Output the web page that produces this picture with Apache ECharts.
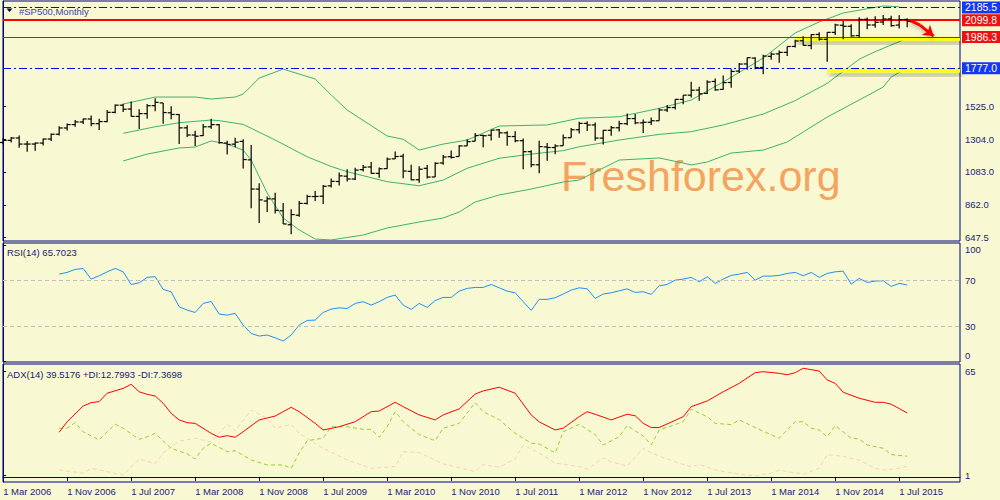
<!DOCTYPE html>
<html><head><meta charset="utf-8">
<script src="https://cdn.jsdelivr.net/npm/echarts@6/dist/echarts.min.js"></script>
<style>html,body{margin:0;padding:0;background:#f8f8d2;}#c{width:1000px;height:500px;}</style>
</head><body><div id="c"></div><script>
// ---- x axis (month index 0 = Mar 2006, one bar per month) ----
const xTickLabels = ['1 Mar 2006','1 Nov 2006','1 Jul 2007','1 Mar 2008','1 Nov 2008','1 Jul 2009','1 Mar 2010','1 Nov 2010','1 Jul 2011','1 Mar 2012','1 Nov 2012','1 Jul 2013','1 Mar 2014','1 Nov 2014','1 Jul 2015'];
const monthsPerTick = 8;

// ---- monthly OHLC ----
const barOpen = [1280.7,1294.8,1310.6,1270.1,1270.2,1276.7,1303.8,1335.9,1377.9,1400.6,
1418.0,1437.9,1406.8,1420.8,1482.4,1530.6,1504.7,1455.2,1474.0,1527.3,
1545.8,1479.6,1468.0,1378.6,1330.5,1326.4,1386.0,1399.6,1276.7,1269.4,
1287.8,1164.2,968.7,888.6,903.0,823.1,729.6,793.6,872.7,918.7,
920.8,990.2,1019.5,1054.9,1036.2,1098.9,1116.6,1073.9,1105.4,1171.2,
1188.6,1087.3,1031.1,1107.5,1049.7,1143.5,1185.7,1186.6,1257.6,1289.1,
1328.6,1329.5,1365.2,1345.2,1320.6,1292.6,1219.1,1131.2,1251.0,1246.9,
1258.9,1312.5,1365.9,1408.5,1397.9,1309.9,1362.3,1379.3,1406.5,1440.9,
1412.2,1416.2,1426.2,1498.1,1514.7,1569.2,1597.6,1631.7,1609.8,1689.4,
1636.0,1682.4,1758.7,1806.6,1845.9,1782.7,1857.7,1874.0,1884.4,1923.9,
1962.3,1929.8,2004.1,1971.4,2018.2,2065.8,2058.9,1996.7,2105.2,2067.6,
2087.4,2108.6,2067.0,2104.5];
const barHigh = [1310.9,1318.2,1326.7,1290.7,1280.4,1306.7,1340.3,1389.5,1407.9,1431.8,
1441.6,1461.6,1438.9,1498.0,1535.6,1540.6,1555.9,1503.9,1538.7,1576.1,
1545.8,1523.6,1471.8,1396.0,1359.7,1404.6,1440.2,1404.1,1292.2,1313.2,
1303.0,1264.3,1007.5,918.9,943.9,875.0,833.0,888.7,930.2,956.2,
996.7,1039.5,1080.2,1101.4,1111.0,1130.4,1150.5,1112.4,1180.7,1219.8,
1205.1,1131.2,1121.0,1129.2,1148.7,1196.1,1227.1,1262.6,1302.7,1344.1,
1332.3,1364.6,1370.6,1356.5,1356.5,1307.4,1229.3,1292.7,1277.6,1269.4,
1333.5,1378.0,1419.2,1422.4,1415.3,1363.5,1391.7,1426.7,1474.5,1471.0,
1434.3,1448.0,1509.9,1530.9,1570.3,1597.6,1687.2,1654.2,1698.0,1709.7,
1729.9,1775.2,1813.6,1849.4,1850.8,1867.9,1884.0,1897.3,1924.0,1968.2,
1991.4,2005.0,2019.3,2018.2,2075.8,2093.6,2072.4,2119.6,2117.5,2125.9,
2134.7,2129.9,2132.8,2112.7];
const barLow = [1268.4,1280.7,1245.3,1219.3,1224.5,1261.3,1290.9,1327.1,1361.0,1385.9,
1404.0,1389.4,1364.0,1416.4,1476.7,1484.2,1454.3,1370.6,1439.3,1489.6,
1406.1,1435.6,1270.1,1316.8,1257.0,1324.4,1373.1,1272.0,1200.4,1248.6,
1106.4,839.8,741.0,815.7,804.3,734.5,666.8,783.3,866.1,888.9,
869.3,978.5,992.0,1020.2,1029.4,1085.9,1071.6,1044.5,1105.4,1170.7,
1040.8,1028.3,1010.9,1039.7,1049.7,1131.9,1173.0,1186.6,1257.6,1289.1,
1249.1,1294.7,1311.8,1258.1,1282.9,1101.5,1114.2,1074.8,1158.7,1202.4,
1258.9,1312.5,1340.0,1357.4,1292.0,1266.7,1325.4,1354.7,1396.6,1403.3,
1343.4,1398.1,1426.2,1485.0,1501.5,1536.0,1581.3,1560.3,1604.6,1627.5,
1633.4,1646.5,1746.2,1768.0,1770.5,1737.9,1834.4,1814.4,1859.8,1916.0,
1930.7,1904.8,1964.0,1820.7,2001.0,1972.6,1988.1,1980.9,2039.7,2048.4,
2067.9,2056.3,2044.0,2052.1];
const barClose = [1294.9,1310.6,1270.1,1270.2,1276.7,1303.8,1335.9,1377.9,1400.6,1418.3,
1438.2,1406.8,1420.9,1482.4,1530.6,1503.4,1455.3,1474.0,1526.8,1549.4,
1481.1,1468.4,1378.6,1330.6,1322.7,1385.6,1400.4,1280.0,1267.4,1282.8,
1166.4,968.8,896.2,903.3,825.9,735.1,797.9,872.8,919.1,919.3,
987.5,1020.6,1057.1,1036.2,1095.6,1115.1,1073.9,1104.5,1169.4,1186.7,
1089.4,1030.7,1101.6,1049.3,1141.2,1183.3,1180.6,1257.6,1286.1,1327.2,
1325.8,1363.6,1345.2,1320.6,1292.3,1218.9,1131.4,1253.3,1247.0,1257.6,
1312.4,1365.7,1408.5,1397.9,1310.3,1362.2,1379.3,1406.6,1440.7,1412.2,
1416.2,1426.2,1498.1,1514.7,1569.2,1597.6,1630.7,1606.3,1685.7,1633.0,
1681.6,1756.5,1805.8,1848.4,1782.6,1859.5,1872.3,1884.0,1923.6,1960.2,
1930.7,2003.4,1972.3,2018.1,2067.6,2058.9,1995.0,2104.5,2067.9,2085.5,
2107.4,2063.1,2103.8,2091.5];

// ---- Bollinger bands [month index, price] ----
const bbUpper = [[15,1538],[19,1585],[24,1585],[26,1572],[29,1585],[30,1605],[32,1712],[35,1772],[39,1706],[41,1599],[43,1498],[48,1324],[50,1302],[52,1230],[55,1270],[58,1297],[62,1391],[68,1398],[72,1443],[77,1453],[82,1509],[86,1565],[90,1686],[95,1846],[99,2014],[102,2088],[105,2148],[110,2195],[112,2190]];
const bbMiddle = [[15,1342],[19,1386],[22,1413],[26,1431],[27,1427],[30,1402],[34,1297],[38,1185],[41,1120],[43,1085],[48,1018],[52,991],[55,1029],[58,1108],[62,1175],[66,1203],[70,1226],[72,1252],[77,1297],[82,1335],[86,1353],[90,1398],[95,1471],[99,1561],[103,1677],[107,1838],[109,1889],[113,1978]];
const bbLower = [[15,1157],[18,1203],[22,1244],[24,1250],[26,1291],[28,1270],[30,1230],[31,1163],[33,942],[35,775],[37,695],[39,634],[41,628],[45,661],[48,708],[52,748],[55,775],[57,815],[59,882],[62,929],[66,969],[70,1016],[72,1029],[74,1083],[77,1163],[82,1177],[85,1143],[86,1130],[88,1150],[91,1210],[95,1230],[98,1284],[100,1351],[103,1451],[107,1565],[110,1652],[111,1719],[113,1780]];

// ---- horizontal levels ----
const levelBlue = [2185.5, 1777.0];
const levelRed = [2099.8, 1986.3];
const yellowZones = [[99,1975],[103,1763]];
const arrowPath = [[113.4,2096],[114.6,2067],[116.3,1993]];

// ---- RSI(14), first value at month index 7 ----
const rsiStart = 7;
const rsiValues = [75.1,76.6,79.2,80.0,70.8,73.7,77.1,80.0,77.1,66.2,
67.6,72.3,72.9,61.9,59.8,46.9,44.0,42.0,49.8,51.5,
40.6,39.7,41.2,31.1,23.9,21.6,22.5,20.1,17.3,22.5,
31.1,35.1,35.4,42.0,44.9,46.0,45.4,49.8,51.3,48.4,
51.3,55.0,57.0,48.4,44.6,49.8,46.4,52.3,55.0,55.0,
60.4,62.8,63.6,63.6,66.2,63.3,60.4,59.0,51.3,43.8,
53.3,53.3,54.7,57.9,61.3,63.3,62.4,54.1,57.9,59.0,
60.7,62.4,59.3,59.9,57.6,65.0,66.2,69.9,70.8,72.3,
68.5,72.8,67.1,70.8,74.0,75.1,76.6,69.9,73.4,73.4,
74.0,75.7,76.6,73.7,76.6,72.3,75.7,77.1,77.7,66.5,
71.4,67.9,69.1,69.4,64.5,67.1,65.7];
const rsiLevels = [70, 30];

// ---- ADX(14), +DI, -DI [month index, value] ----
const adxLine = [[7,27.6],[8,34.1],[10,43.8],[11,45.9],[12,46.5],[13,51.7],[15,54.7],[16,57.2],[17,52.6],[18,51],[19,50],[20,45.5],[21,39.3],[22,35.2],[23,33.5],[24,33.1],[26,26.9],[27,24.5],[28,25.5],[29,24.5],[30,27.9],[32,35.2],[34,37.6],[35,40.3],[36,43],[37,40.3],[39,33.1],[40,29],[42,31],[44,34.1],[46,40.3],[47,40.7],[49,46.1],[50,43.4],[52,38.3],[54,35.2],[55,38.3],[57,42],[59,51.2],[60,53.1],[62,55.4],[64,51.7],[66,38.3],[67,34],[69,29],[70,30.1],[72,37.2],[73,40.3],[74,38.7],[76,35.2],[78,38.7],[79,37.8],[80,33.1],[81,30.5],[82,30.5],[85,37.2],[86,43.4],[88,46.9],[90,52.6],[92,57.8],[94,64.4],[95,65],[97,64],[98,63.1],[99,64.4],[100,67.1],[102,65.4],[103,59.9],[104,57.8],[105,52.3],[107,48.6],[109,46.1],[110,46.1],[111,44.9],[113,39.5]];
const plusDI = [[7,30.1],[8,30.1],[9,33.5],[10,27.9],[12,22.8],[13,27.9],[14,32.5],[15,30.1],[17,23.2],[18,24.8],[19,26.9],[21,17.7],[23,14.2],[24,11.1],[25,17.7],[26,20.8],[28,15.6],[29,16.2],[31,10.5],[33,7.4],[35,7.4],[36,5.3],[37,14.8],[38,22.4],[40,23.9],[41,31],[43,31],[45,29.4],[46,29.4],[47,24.5],[48,31],[49,40.3],[50,34.1],[52,26.1],[54,22.4],[55,30.1],[57,33.1],[59,45.9],[60,40.3],[62,35.4],[64,26.9],[66,20.8],[67,20.4],[69,14.8],[70,27.9],[72,32.5],[74,26.1],[75,19.7],[77,24.8],[78,31.7],[80,25.3],[81,19.7],[82,29],[85,34.1],[86,41.8],[88,37.2],[89,33.1],[91,32.3],[92,35.2],[95,28.2],[97,23.9],[99,34.1],[100,34.1],[101,30.1],[102,29],[103,24.8],[104,31.7],[106,23.9],[107,23.4],[108,19.7],[110,17.7],[111,13.8],[113,12.8]];
const minusDI = [[7,4.3],[10,2.3],[11,5.3],[12,4.3],[15,1.1],[17,11.1],[19,8.1],[20,14.8],[22,22.1],[24,23.9],[26,21.5],[28,32.5],[29,28.5],[31,41.3],[33,36.2],[34,30.1],[36,32.5],[37,26.9],[40,17.7],[43,10.5],[46,5.3],[49,6.4],[50,15.6],[52,15],[55,8.1],[59,3.3],[60,7.6],[62,6],[64,11.1],[65,19.7],[67,14.8],[69,8.5],[72,6.4],[73,4.7],[75,11.7],[76,9.3],[78,6.8],[80,17.7],[81,14.8],[84,9.3],[86,6.2],[87,7.7],[89,4.3],[92,1.7],[94,0.6],[96,2.3],[97,4.3],[98,3.3],[100,1.7],[102,5.3],[103,13.8],[105,12.7],[107,10.4],[109,5.3],[110,4.3],[112,5.3],[113,6.5]];

// ---- axis tick labels ----
const priceTicks = [647.5, 862.0, 1083.0, 1304.0, 1525.0];
const rsiTicks = [0, 30, 70, 100];
const adxTicks = [1, 65];

// ---------------------------------------------------------------
const NAVY = '#000080', LBL = '#1c1c78', BG = '#f8f8d2';
const FONT = '"Liberation Sans", Arial, sans-serif';
const ohlcData = barOpen.map((o, i) => [i, o, barHigh[i], barLow[i], barClose[i]]);
const rsiData = rsiValues.map((v, i) => [rsiStart + i, v]);
const XMIN = -0.02, XMAX = 119.6;

function renderOHLC(params, api) {
  const x = api.value(0);
  const o = api.coord([x, api.value(1)]);
  const h = api.coord([x, api.value(2)]);
  const l = api.coord([x, api.value(3)]);
  const c = api.coord([x, api.value(4)]);
  const px = o[0];
  const st = { stroke: '#000', lineWidth: 1.2 };
  return { type: 'group', children: [
    { type: 'line', shape: { x1: px, y1: h[1], x2: px, y2: l[1] }, style: st },
    { type: 'line', shape: { x1: px - 3.5, y1: o[1], x2: px, y2: o[1] }, style: st },
    { type: 'line', shape: { x1: px, y1: c[1], x2: px + 3.5, y2: c[1] }, style: st }
  ]};
}

function levelLine(v, color, width, type, boxColor) {
  return { yAxis: v, lineStyle: { color: color, width: width, type: type },
    label: { show: true, position: 'end', distance: 2, formatter: v.toFixed(1), color: '#fff',
      backgroundColor: boxColor, padding: [1, 3, 0, 3], fontSize: 10.5, fontFamily: FONT } };
}

const dashDot = [8, 3, 2, 3];
const gridBase = { show: true, borderColor: NAVY, borderWidth: 1, backgroundColor: 'transparent', left: 3, right: 40, outerBoundsMode: 'none', containLabel: false };

const hiddenX = (gi) => ({ type: 'value', gridIndex: gi, min: XMIN, max: XMAX, show: false, splitLine: { show: false } });
const xTickValues = xTickLabels.map((_, i) => i * monthsPerTick);

const option = {
  backgroundColor: BG,
  animation: false,
  grid: [
    Object.assign({ top: 1, height: 240 }, gridBase),
    Object.assign({ top: 243, height: 119 }, gridBase),
    Object.assign({ top: 364, height: 118 }, gridBase)
  ],
  xAxis: [hiddenX(0), hiddenX(1), {
    type: 'value', gridIndex: 2, min: XMIN, max: XMAX,
    axisLine: { show: true, lineStyle: { color: NAVY } },
    axisTick: { show: true, length: 4, lineStyle: { color: NAVY }, customValues: xTickValues },
    axisLabel: { show: true, align: 'left', margin: 4, color: LBL, fontSize: 9.5, fontFamily: FONT,
      showMinLabel: true, hideOverlap: false,
      customValues: xTickValues,
      formatter: v => xTickLabels[Math.round(v / monthsPerTick)] || '' },
    splitLine: { show: false }
  }],
  yAxis: [
    { type: 'value', gridIndex: 0, position: 'right', min: 620.9, max: 2228.2, scale: true,
      axisLine: { show: true, lineStyle: { color: NAVY } },
      axisTick: { show: true, length: 3, lineStyle: { color: NAVY }, customValues: priceTicks },
      axisLabel: { show: true, margin: 5, color: LBL, fontSize: 9.5, fontFamily: FONT, customValues: priceTicks, formatter: v => v.toFixed(1) },
      splitLine: { show: false } },
    { type: 'value', gridIndex: 1, position: 'right', min: -0.8, max: 102,
      axisLine: { show: true, lineStyle: { color: NAVY } },
      axisTick: { show: true, length: 3, lineStyle: { color: NAVY }, customValues: rsiTicks },
      axisLabel: { show: true, margin: 5, color: LBL, fontSize: 9.5, fontFamily: FONT, customValues: rsiTicks,
        formatter: v => v === 100 ? '{t|100}' : (v === 0 ? '{b|0}' : String(v)),
        rich: { t: { padding: [9, 0, 0, 0], color: LBL, fontSize: 9.5, fontFamily: FONT }, b: { padding: [0, 0, 11, 0], color: LBL, fontSize: 9.5, fontFamily: FONT } } },
      splitLine: { show: false } },
    { type: 'value', gridIndex: 2, position: 'right', min: -3.14, max: 69.75,
      axisLine: { show: true, lineStyle: { color: NAVY } },
      axisTick: { show: true, length: 3, lineStyle: { color: NAVY }, customValues: adxTicks },
      axisLabel: { show: true, margin: 5, color: LBL, fontSize: 9.5, fontFamily: FONT, customValues: adxTicks },
      splitLine: { show: false } }
  ],
  graphic: [
    { type: 'text', x: 561, y: 176, z: 0, style: { text: 'Freshforex.org', fill: '#f4a460', font: '43px ' + FONT, verticalAlign: 'middle' } },
    { type: 'polygon', shape: { points: [[6.5, 8.5], [12.5, 8.5], [9.5, 12]] }, style: { fill: '#000050' } },
    { type: 'text', x: 19, y: 11, style: { text: '#SP500,Monthly', fill: '#3c4a9c', font: '9.5px ' + FONT, verticalAlign: 'middle' } },
    { type: 'text', x: 7, y: 252.5, style: { text: 'RSI(14) 65.7023', fill: '#202074', font: '9.5px ' + FONT, verticalAlign: 'middle' } },
    { type: 'text', x: 7, y: 374, style: { text: 'ADX(14) 39.5176 +DI:12.7993 -DI:7.3698', fill: '#202074', font: '9.5px ' + FONT, verticalAlign: 'middle' } }
  ],
  series: [
    { type: 'line', xAxisIndex: 0, yAxisIndex: 0, data: bbLower, symbol: 'none', z: 2,
      lineStyle: { color: '#3cb371', width: 1 } },
    { type: 'line', xAxisIndex: 0, yAxisIndex: 0, data: bbMiddle, symbol: 'none', z: 2,
      lineStyle: { color: '#3cb371', width: 1 } },
    { type: 'custom', xAxisIndex: 0, yAxisIndex: 0, data: yellowZones, z: 3, clip: false,
      encode: { x: 0, y: 1 },
      renderItem: function (params, api) {
        const a = api.coord([api.value(0), api.value(1)]);
        const b = api.coord([XMAX, api.value(1)]);
        return { type: 'rect', shape: { x: a[0], y: a[1] - 2, width: b[0] - a[0], height: 4 },
          style: { fill: '#ffff00', shadowColor: 'rgba(0,0,0,0.3)', shadowBlur: 5, shadowOffsetX: 2, shadowOffsetY: 4 } };
      } },
    { type: 'line', xAxisIndex: 0, yAxisIndex: 0, data: bbUpper, symbol: 'none', z: 4,
      lineStyle: { color: '#3cb371', width: 1 },
      markLine: { silent: true, symbol: ['none', 'none'], animation: false,
        data: [
          levelLine(levelBlue[0], '#0000ff', 1, dashDot, '#1438f5'),
          levelLine(levelRed[0], '#ff0000', 2, 'solid', '#f01010'),
          levelLine(levelRed[1], '#ff0000', 1, 'solid', '#f01010'),
          levelLine(levelBlue[1], '#0000ff', 1, dashDot, '#1438f5')
        ] } },
    { type: 'custom', xAxisIndex: 0, yAxisIndex: 0, data: ohlcData, renderItem: renderOHLC, z: 5,
      encode: { x: 0, y: [1, 2, 3, 4] },
      markLine: { silent: true, animation: false, label: { show: false },
        lineStyle: { color: '#ff0000', width: 3, type: 'solid', shadowColor: 'rgba(0,0,0,0.3)', shadowBlur: 4, shadowOffsetY: 2 },
        data: [
          [{ coord: arrowPath[0], symbol: 'none' }, { coord: arrowPath[1], symbol: 'none' }],
          [{ coord: arrowPath[1], symbol: 'none' }, { coord: arrowPath[2], symbol: 'arrow', symbolSize: 10 }]
        ] } },
    { type: 'line', xAxisIndex: 1, yAxisIndex: 1, data: rsiData, symbol: 'none', z: 3,
      lineStyle: { color: '#1e90ff', width: 1 },
      markLine: { silent: true, symbol: ['none', 'none'], animation: false, label: { show: false },
        lineStyle: { color: '#c0c0c0', width: 1, type: [4, 3] },
        data: rsiLevels.map(v => ({ yAxis: v })) } },
    { type: 'line', xAxisIndex: 2, yAxisIndex: 2, data: minusDI, symbol: 'none', z: 2,
      lineStyle: { color: '#f8d0b0', width: 1, type: [4, 3] } },
    { type: 'line', xAxisIndex: 2, yAxisIndex: 2, data: plusDI, symbol: 'none', z: 3,
      lineStyle: { color: '#9acd32', width: 1, type: [4, 3] } },
    { type: 'line', xAxisIndex: 2, yAxisIndex: 2, data: adxLine, symbol: 'none', z: 4,
      lineStyle: { color: '#ff0000', width: 1 } }
  ]
};

const chart = echarts.init(document.getElementById('c'), null, { renderer: 'svg', width: 1000, height: 500 });
chart.setOption(option);
</script></body></html>
